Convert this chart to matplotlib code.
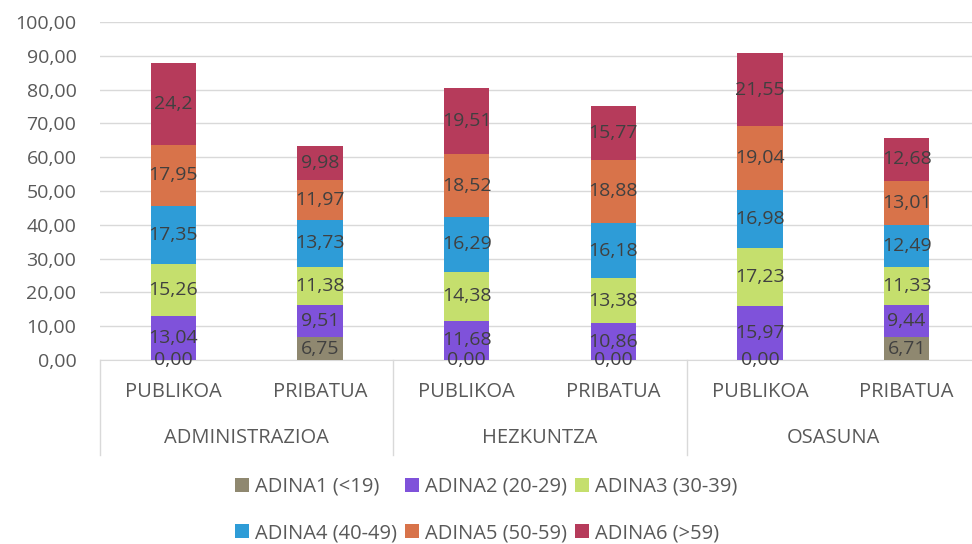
import matplotlib.pyplot as plt
import numpy as np
from matplotlib.patches import Patch

plt.rcParams['font.family'] = ['Open Sans', 'DejaVu Sans']

groups = ["ADMINISTRAZIOA", "HEZKUNTZA", "OSASUNA"]
sectors = ["PUBLIKOA", "PRIBATUA"] * 3

series_names = ["ADINA1 (<19)", "ADINA2 (20-29)", "ADINA3 (30-39)",
                "ADINA4 (40-49)", "ADINA5 (50-59)", "ADINA6 (>59)"]
adina1 = [0.00, 6.75, 0.00, 0.00, 0.00, 6.71]
adina2 = [13.04, 9.51, 11.68, 10.86, 15.97, 9.44]
adina3 = [15.26, 11.38, 14.38, 13.38, 17.23, 11.33]
adina4 = [17.35, 13.73, 16.29, 16.18, 16.98, 12.49]
adina5 = [17.95, 11.97, 18.52, 18.88, 19.04, 13.01]
adina6 = [24.2, 9.98, 19.51, 15.77, 21.55, 12.68]
series = [adina1, adina2, adina3, adina4, adina5, adina6]

colors = ["#8F8870", "#7F52DA", "#C5DF6D", "#2E9CD7", "#D8734A", "#B63B5B"]

yticks = np.arange(0, 101, 10)


def fmt(v):
    s = f"{v:.2f}"
    if s.endswith("0") and v != 0:
        s = s.rstrip("0")
    return s.replace(".", ",")


fig = plt.figure(figsize=(9.72, 5.44), dpi=100)
ax = fig.add_axes([100 / 972, 1 - 360 / 544, 880 / 972, 338 / 544])

x = np.arange(len(sectors))
bottom = np.zeros(len(sectors))
for name, vals, c in zip(series_names, series, colors):
    vals = np.array(vals)
    ax.bar(x, vals, width=0.31, bottom=bottom, color=c, zorder=3)
    for xi, b, v in zip(x, bottom, vals):
        ax.text(xi, b + v / 2, fmt(v), ha="center", va="center",
                fontsize=14, color="#404040", zorder=4)
    bottom = bottom + vals

ax.set_xlim(-0.5, len(sectors) - 0.5)
ax.set_ylim(0, 100)
ax.set_yticks(yticks)
ax.set_yticklabels([f"{t:.2f}".replace(".", ",") for t in yticks],
                   fontsize=14, color="#595959")
ax.tick_params(axis="y", length=0, pad=17)
ax.set_xticks([])
ax.grid(axis="y", color="#D9D9D9", linewidth=1, zorder=0)
for sp in ["left", "right", "top"]:
    ax.spines[sp].set_visible(False)
ax.spines["bottom"].set_color("#D9D9D9")

# category axis: sector labels, group labels and separators
trans = ax.get_xaxis_transform()
for xi, s in zip(x, sectors):
    ax.text(xi, -0.095, s, transform=trans, ha="center", va="center",
            fontsize=14.5, color="#595959")
for gi, g in enumerate(groups):
    ax.text(2 * gi + 0.5, -0.23, g, transform=trans, ha="center", va="center",
            fontsize=14.5, color="#595959")
for sep in [-0.5, 1.5, 3.5, 5.5]:
    ax.plot([sep, sep], [0, -0.281], transform=trans, color="#D9D9D9",
            linewidth=1, clip_on=False)

handles = [Patch(facecolor=c, label=n) for n, c in zip(series_names, colors)]
order = [0, 3, 1, 4, 2, 5]
fig.legend([handles[i] for i in order], [series_names[i] for i in order],
           loc="center", bbox_to_anchor=(0.5, 1 - 510 / 544), ncol=3,
           frameon=False, fontsize=14.5, labelcolor="#595959",
           handlelength=0.7, handleheight=0.7, handletextpad=0.3,
           columnspacing=0.4, labelspacing=1.3)

fig.savefig("out.png", dpi=100)
